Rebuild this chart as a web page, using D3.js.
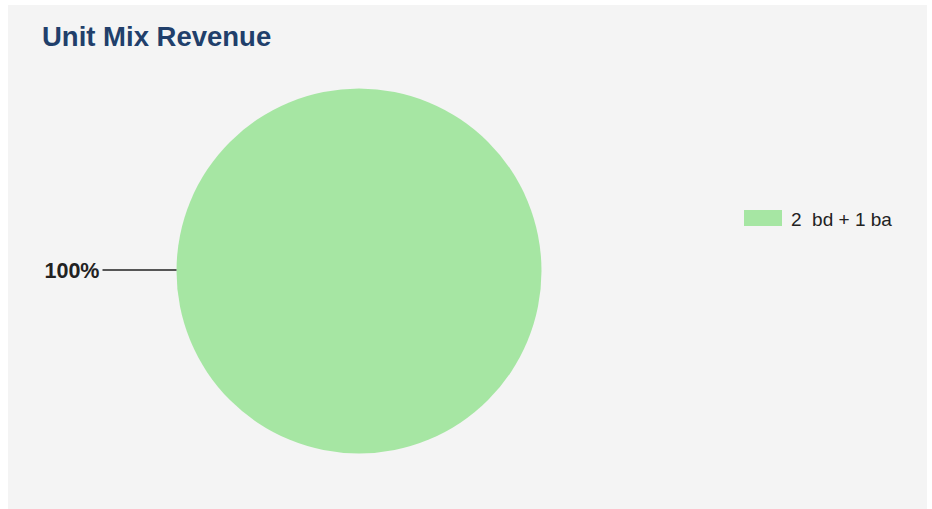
<!DOCTYPE html>
<html><head><meta charset="utf-8">
<script src="https://cdn.jsdelivr.net/npm/d3@7"></script>
<style>html,body{margin:0;padding:0;background:#fff;}svg{display:block;}</style>
</head><body>
<svg id="c" width="932" height="509"></svg>
<script>
const categories = ["2  bd + 1 ba"];
const values = [100];
const colors = ["#a6e6a3"];
const title = "Unit Mix Revenue";

const svg = d3.select("#c");
svg.append("rect").attr("x", 8).attr("y", 5).attr("width", 919).attr("height", 504).attr("fill", "#f4f4f4");
svg.append("text").attr("x", 42).attr("y", 46).text(title)
  .attr("font-family", "Liberation Sans, Arial, sans-serif").attr("font-weight", "bold")
  .attr("font-size", 27.5).attr("fill", "#213f6b");

const cx = 359, cy = 271, r = 182.5;
const pie = d3.pie().sort(null).value(d => d);
const arcs = pie(values);
const arc = d3.arc().innerRadius(0).outerRadius(r);
const total = d3.sum(values);
const g = svg.append("g").attr("transform", `translate(${cx},${cy})`);
g.selectAll("path").data(arcs).join("path").attr("d", arc).attr("fill", (d, i) => colors[i]);

arcs.forEach((d, i) => {
  const pct = Math.round(d.value / total * 100) + "%";
  g.append("line").attr("x1", -r).attr("y1", -1).attr("x2", -r - 74).attr("y2", -1)
    .attr("stroke", "#222").attr("stroke-width", 1.3);
  g.append("text").attr("x", -r - 77).attr("y", 7).attr("text-anchor", "end").text(pct)
    .attr("font-family", "Liberation Sans, Arial, sans-serif").attr("font-weight", "bold")
    .attr("font-size", 21.5).attr("fill", "#222");
});

const lg = svg.append("g").attr("transform", "translate(744,210)");
categories.forEach((c, i) => {
  lg.append("rect").attr("x", 0).attr("y", i * 24).attr("width", 38).attr("height", 16).attr("fill", colors[i]);
  lg.append("text").attr("x", 47).attr("y", i * 24 + 16).text(c)
    .attr("font-family", "Liberation Sans, Arial, sans-serif").attr("font-size", 19)
    .attr("fill", "#222").style("white-space", "pre");
});
</script>
</body></html>
